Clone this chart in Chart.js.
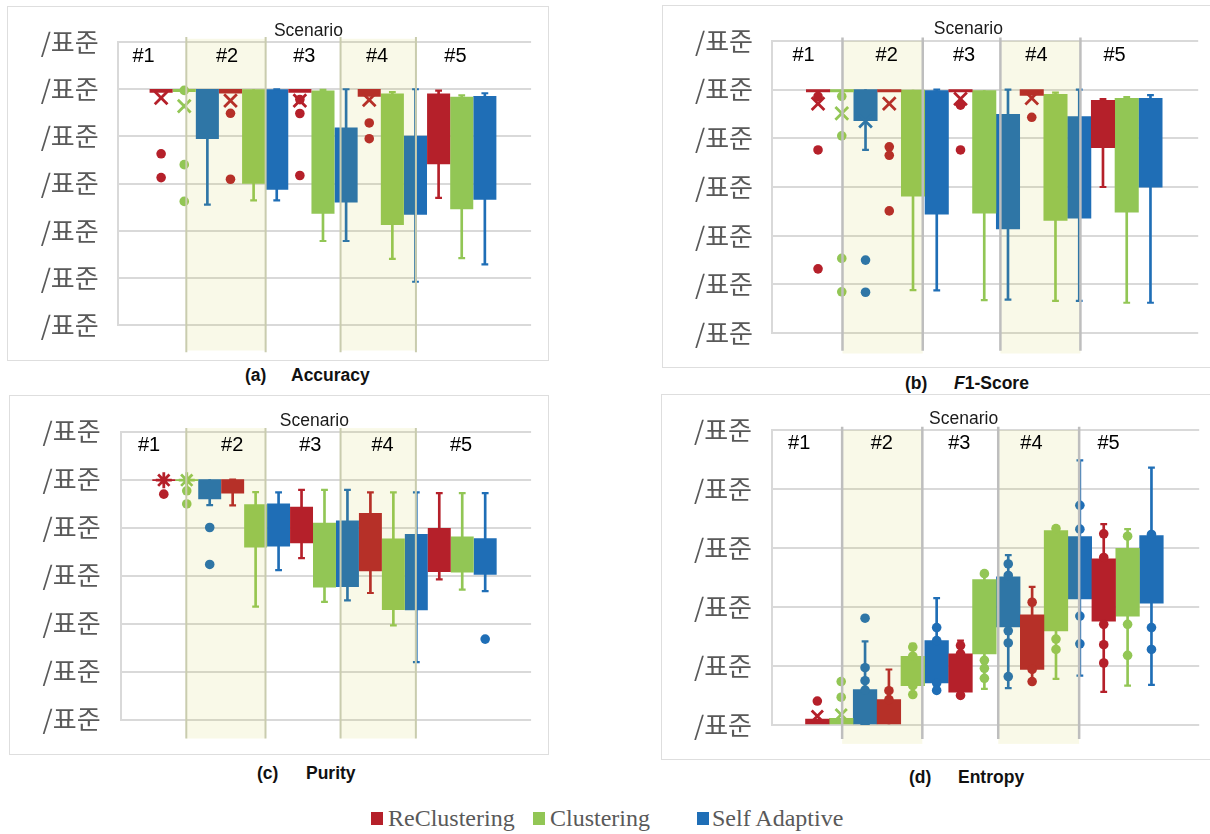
<!DOCTYPE html>
<html><head><meta charset="utf-8">
<script src="https://cdn.jsdelivr.net/npm/chart.js@4/dist/chart.umd.min.js"></script>
<style>
html,body{margin:0;padding:0;background:#fff;}
body{width:1210px;height:834px;overflow:hidden;position:relative;}
.frame{position:absolute;border:1px solid #DEDEDE;box-sizing:border-box;}
canvas{position:absolute;}
.cap{position:absolute;font-family:'Liberation Sans',Arial,sans-serif;font-weight:bold;font-size:17.5px;color:#111;line-height:20px;white-space:nowrap;}
.leg{position:absolute;font-family:'Liberation Serif','Times New Roman',serif;font-size:24px;color:#595959;line-height:28px;white-space:nowrap;}
.sw{position:absolute;width:12px;height:13px;}
</style></head><body>
<div class="frame" style="left:7px;top:6px;width:542px;height:355px"></div>
<div class="frame" style="left:662px;top:5px;width:560px;height:363px"></div>
<div class="frame" style="left:9px;top:395px;width:540px;height:360px"></div>
<div class="frame" style="left:661px;top:394px;width:560px;height:366px"></div>

<canvas id="cA" width="540" height="353" style="left:8px;top:7px"></canvas>
<canvas id="cB" width="547" height="362" style="left:663px;top:6px"></canvas>
<canvas id="cC" width="538" height="359" style="left:10px;top:396px"></canvas>
<canvas id="cD" width="548" height="365" style="left:662px;top:395px"></canvas>

<div class="cap" style="left:245px;top:365px">(a)</div>
<div class="cap" style="left:291px;top:365px">Accuracy</div>
<div class="cap" style="left:905px;top:373px">(b)</div>
<div class="cap" style="left:954px;top:373px"><i>F</i>1-Score</div>
<div class="cap" style="left:257px;top:763px">(c)</div>
<div class="cap" style="left:306px;top:763px">Purity</div>
<div class="cap" style="left:909px;top:767px">(d)</div>
<div class="cap" style="left:958px;top:767px">Entropy</div>

<div class="sw" style="left:371px;top:812px;background:#B5202A"></div>
<div class="leg" style="left:388px;top:804px">ReClustering</div>
<div class="sw" style="left:533px;top:812px;background:#92C655"></div>
<div class="leg" style="left:550px;top:804px">Clustering</div>
<div class="sw" style="left:697px;top:812px;background:#1F6EB6"></div>
<div class="leg" style="left:712px;top:804px">Self Adaptive</div>

<script>
// ---------- data ----------
const methods = ['ReClustering', 'Clustering', 'Self Adaptive'];
const scenarios = ['#1', '#2', '#3', '#4', '#5'];
const scenarioTitle = 'Scenario';
const yTickLabels = ['/표준', '/표준', '/표준', '/표준', '/표준', '/표준', '/표준'];
const entropyTickLabels = ['/표준', '/표준', '/표준', '/표준', '/표준', '/표준'];

// every array below: 15 boxes, order = #1 Re, #1 Cl, #1 SA, #2 Re, ... #5 SA
// (a) Accuracy
const accQ1 = [0.986, 0.99, 0.79, 0.983, 0.60, 0.575, 0.986, 0.473, 0.521, 0.97, 0.425, 0.469, 0.683, 0.492, 0.532];
const accQ3 = [1.0, 1.0, 1.0, 1.0, 0.998, 0.998, 1.0, 0.993, 0.836, 1.0, 0.981, 0.801, 0.981, 0.967, 0.970];
const accLo = [null, null, 0.51, null, 0.528, 0.528, null, 0.356, 0.356, null, 0.28, 0.183, 0.539, 0.283, 0.257];
const accHi = [null, null, null, null, null, 1.0, null, 0.997, 1.0, null, 0.988, 1.0, 0.994, 0.974, 0.983];
const accMean = [0.963, 0.928, null, 0.952, null, null, 0.952, null, null, 0.955, null, null, null, null, null];
const accOut = [[0.726, 0.625], [0.995, 0.68, 0.524], [], [0.898, 0.618], [], [], [0.956, 0.897, 0.634], [], [], [0.857, 0.79], [], [], [], [], []];

// (b) F1-Score
const f1Q1 = [0.99, 0.99, 0.872, 0.99, 0.562, 0.489, 0.99, 0.493, 0.428, 0.976, 0.463, 0.472, 0.761, 0.497, 0.599];
const f1Q3 = [1.0, 1.0, 1.0, 1.0, 0.998, 0.996, 1.0, 0.996, 0.898, 1.0, 0.98, 0.889, 0.956, 0.964, 0.964];
const f1Lo = [null, null, 0.752, null, 0.177, 0.176, null, 0.136, 0.138, null, 0.133, 0.133, 0.6, 0.125, 0.125];
const f1Hi = [null, null, null, null, null, 1.0, null, null, 1.0, null, 0.987, 1.0, 0.961, 0.969, 0.977];
const f1Mean = [0.942, 0.902, 0.87, 0.942, null, null, 0.962, null, null, 0.965, null, null, null, null, null];
const f1Out = [[0.972, 0.752, 0.264], [0.972, 0.81, 0.307, 0.17], [0.3, 0.168], [0.765, 0.73, 0.502], [], [], [0.936, 0.752], [], [], [0.886], [], [], [], [], []];

// (c) Purity
const purQ1 = [0.995, 0.995, 0.919, 0.943, 0.718, 0.722, 0.736, 0.551, 0.553, 0.619, 0.458, 0.457, 0.616, 0.614, 0.605];
const purQ3 = [1.0, 1.0, 1.0, 1.0, 0.896, 0.899, 0.885, 0.818, 0.828, 0.859, 0.753, 0.772, 0.797, 0.761, 0.754];
const purLo = [null, null, 0.893, 0.892, 0.47, 0.622, 0.672, 0.49, 0.496, 0.527, 0.392, 0.239, 0.584, 0.541, 0.535];
const purHi = [null, null, null, 1.0, 0.947, 0.946, 0.957, 0.957, 0.957, 0.946, 0.946, 0.946, 0.943, 0.943, 0.943];
const purMean = [0.997, 0.997, null, null, null, null, null, null, null, null, null, null, null, null, null];
const purOut = [[0.939], [0.953, 0.898], [0.8, 0.646], [], [], [], [], [], [], [], [], [], [], [], [0.335]];

// (d) Entropy
const entQ1 = [0, 0, 0, 0, 0.133, 0.142, 0.111, 0.241, 0.332, 0.188, 0.319, 0.427, 0.352, 0.369, 0.413];
const entQ3 = [0.02, 0.022, 0.12, 0.086, 0.233, 0.286, 0.241, 0.493, 0.502, 0.373, 0.659, 0.639, 0.563, 0.599, 0.642];
const entLo = [null, null, null, null, 0.103, 0.117, 0.1, 0.122, 0.125, 0.147, 0.156, 0.167, 0.112, 0.133, 0.136];
const entHi = [null, null, 0.283, 0.188, 0.275, 0.43, 0.286, 0.513, 0.576, 0.468, 0.673, 0.897, 0.681, 0.664, 0.873];
const entMean = [0.03, 0.035, null, null, null, null, null, null, null, null, null, null, null, null, null];
const entOut = [[0.081], [0.147, 0.094], [0.362, 0.194, 0.15, 0.118, 0], [0.116, 0.086], [0.264, 0.233, 0.133, 0.103], [0.33, 0.286, 0.142, 0.117],
  [0.269, 0.241, 0.1], [0.513, 0.219, 0.192, 0.158], [0.546, 0.507, 0.319, 0.278, 0.164],
  [0.416, 0.188, 0.147], [0.666, 0.291, 0.256], [0.745, 0.664, 0.369, 0.275],
  [0.648, 0.568, 0.341, 0.272, 0.21], [0.64, 0.341, 0.236], [0.646, 0.33, 0.256]];

// ---------- styles ----------
const colors = ['#B5202A', '#92C655', '#1F6EB6'];
const olive = '#C9CCAE', grey = '#BEBEBE';

const scenarioPlugin = {
  id: 'scenarioBands',
  afterDatasetsDraw(chart, args, o) {
    const {ctx, chartArea: ca} = chart;
    const x = chart.scales.x;
    ctx.save();
    ctx.fillStyle = 'rgba(200,200,30,0.1)';
    [[o.lines[0], o.lines[1]], [o.lines[2], o.lines[3]]].forEach(([a, b]) => {
      const xa = x.getPixelForValue(a), xb = x.getPixelForValue(b);
      ctx.fillRect(xa, ca.top - o.shadeUp, xb - xa, ca.bottom - ca.top + o.shadeUp + o.shadeDown);
    });
    ctx.strokeStyle = o.lineColor;
    ctx.lineWidth = o.lineWidth;
    o.lines.forEach(e => {
      const px = x.getPixelForValue(e);
      ctx.beginPath();
      ctx.moveTo(px, ca.top - o.lineUp);
      ctx.lineTo(px, ca.bottom + o.lineDown);
      ctx.stroke();
    });
    ctx.textAlign = 'center';
    ctx.textBaseline = 'middle';
    ctx.fillStyle = '#000';
    ctx.font = '20px "Liberation Sans Narrow", "Liberation Sans", Arial, sans-serif';
    scenarios.forEach((s, i) => ctx.fillText(s, x.getPixelForValue(o.labelX[i]), ca.top + o.labelDy));
    ctx.fillStyle = '#1a1a1a';
    ctx.font = '17.5px "Liberation Sans", Arial, sans-serif';
    ctx.fillText(scenarioTitle, x.getPixelForValue(o.titleX), ca.top - o.titleDy);
    ctx.restore();
  }
};

function makeBoxChart(id, st, g) {
  const datasets = [];
  methods.forEach((name, m) => {
    const idx = scenarios.map((s, i) => i * 3 + m);
    const c = colors[m];
    datasets.push({
      type: 'bar', label: name + ' whisker', order: 3, grouped: false,
      barThickness: 2, backgroundColor: c, borderWidth: 0,
      data: idx.filter(k => st.lo[k] != null || st.hi[k] != null)
        .map(k => ({x: k, y: [st.lo[k] ?? st.q1[k], st.hi[k] ?? st.q3[k]]}))
    });
    datasets.push({
      type: 'bar', label: name, order: 2, grouped: false,
      barThickness: g.barW, backgroundColor: c, borderWidth: 0,
      data: idx.map(k => ({x: k, y: [st.q1[k], st.q3[k]]}))
    });
    const caps = [];
    idx.forEach(k => {
      if (st.lo[k] != null) caps.push({x: k, y: st.lo[k]});
      if (st.hi[k] != null) caps.push({x: k, y: st.hi[k]});
    });
    datasets.push({
      type: 'scatter', label: name + ' caps', order: 1, data: caps,
      pointStyle: 'line', pointRadius: 3.4, pointBorderWidth: 2.2,
      pointBorderColor: c, pointBackgroundColor: c
    });
    datasets.push({
      type: 'scatter', label: name + ' points', order: 1,
      data: idx.flatMap(k => st.out[k].map(v => ({x: k, y: v}))),
      pointStyle: 'circle', pointRadius: 4.8, pointBorderWidth: 0,
      pointBackgroundColor: c, pointBorderColor: c
    });
    datasets.push({
      type: 'scatter', label: name + ' mean', order: 1,
      data: idx.filter(k => st.mean[k] != null).map(k => ({x: k, y: st.mean[k]})),
      pointStyle: g.meanStyle, pointRadius: g.meanR, pointBorderWidth: 2.8,
      pointBorderColor: c, pointBackgroundColor: c
    });
  });

  return new Chart(document.getElementById(id), {
    type: 'bar',
    data: {datasets},
    plugins: [scenarioPlugin],
    options: {
      responsive: false, animation: false, events: [],
      layout: {padding: {left: 0, top: g.padTop, right: g.padRight, bottom: g.padBottom}},
      plugins: {
        legend: {display: false}, tooltip: {enabled: false},
        scenarioBands: g.bands
      },
      scales: {
        x: {
          type: 'linear', display: false, offset: false,
          min: g.xMin, max: g.xMax, ticks: {stepSize: 1, includeBounds: false}
        },
        y: {
          min: 0, max: st.yMax,
          ticks: {
            stepSize: 0.2, padding: g.tickPad, color: '#595959',
            font: {family: '"Noto Sans CJK KR", "Noto Sans", sans-serif', size: 26},
            callback: (v, i) => st.ticks[i]
          },
          grid: {color: '#D9D9D9', lineWidth: 2, drawTicks: false},
          border: {display: true, color: '#D9D9D9', width: 2},
          afterFit: s => { s.width = g.yWidth; }
        }
      }
    }
  });
}

makeBoxChart('cA',
  {q1: accQ1, q3: accQ3, lo: accLo, hi: accHi, mean: accMean, out: accOut, yMax: 1.2, ticks: yTickLabels},
  {xMin: -1.856, xMax: 16.0, barW: 22.4, yWidth: 110.2, tickPad: 19.5, padTop: 31.3, padRight: 16.9, padBottom: 32.3, meanStyle: 'crossRot', meanR: 9,
   bands: {lines: [1.09, 4.52, 7.76, 11.02], labelX: [-0.76, 2.85, 6.19, 9.34, 12.73], titleX: 6.37,
           shadeUp: 3.3, shadeDown: 25.6, lineUp: 5, lineDown: 27.3, lineColor: olive, lineWidth: 2, labelDy: 14.2, titleDy: 10.6}});

makeBoxChart('cB',
  {q1: f1Q1, q3: f1Q3, lo: f1Lo, hi: f1Hi, mean: f1Mean, out: f1Out, yMax: 1.2, ticks: yTickLabels},
  {xMin: -1.93, xMax: 16.01, barW: 23.4, yWidth: 109.2, tickPad: 19.2, padTop: 32.3, padRight: 11, padBottom: 32.3, meanStyle: 'crossRot', meanR: 9,
   bands: {lines: [1.03, 4.41, 7.68, 11.05], labelX: [-0.61, 2.89, 6.15, 9.2, 12.49], titleX: 6.33,
           shadeUp: 0, shadeDown: 20.3, lineUp: 3.3, lineDown: 17.6, lineColor: grey, lineWidth: 2.5, labelDy: 14.2, titleDy: 11.6}});

makeBoxChart('cC',
  {q1: purQ1, q3: purQ3, lo: purLo, hi: purHi, mean: purMean, out: purOut, yMax: 1.2, ticks: yTickLabels},
  {xMin: -1.886, xMax: 16.0, barW: 22.3, yWidth: 110.5, tickPad: 19.9, padTop: 30.7, padRight: 16.9, padBottom: 32.3, meanStyle: 'star', meanR: 8,
   bands: {lines: [0.98, 4.43, 7.7, 10.98], labelX: [-0.64, 2.98, 6.38, 9.53, 12.95], titleX: 6.56,
           shadeUp: 3.4, shadeDown: 19, lineUp: 3.4, lineDown: 19, lineColor: olive, lineWidth: 2, labelDy: 13.5, titleDy: 10.7}});

makeBoxChart('cD',
  {q1: entQ1, q3: entQ3, lo: entLo, hi: entHi, mean: entMean, out: entOut, yMax: 1.0, ticks: entropyTickLabels},
  {xMin: -1.92, xMax: 16.0, barW: 23.6, yWidth: 109.5, tickPad: 19.5, padTop: 31.7, padRight: 7.2, padBottom: 32.3, meanStyle: 'crossRot', meanR: 8,
   bands: {lines: [1.04, 4.4, 7.58, 10.97], labelX: [-0.76, 2.7, 5.95, 8.97, 12.2], titleX: 6.13,
           shadeUp: 0, shadeDown: 19, lineUp: 3.4, lineDown: 14, lineColor: grey, lineWidth: 2.5, labelDy: 13.3, titleDy: 10.7}});
</script>
</body></html>
